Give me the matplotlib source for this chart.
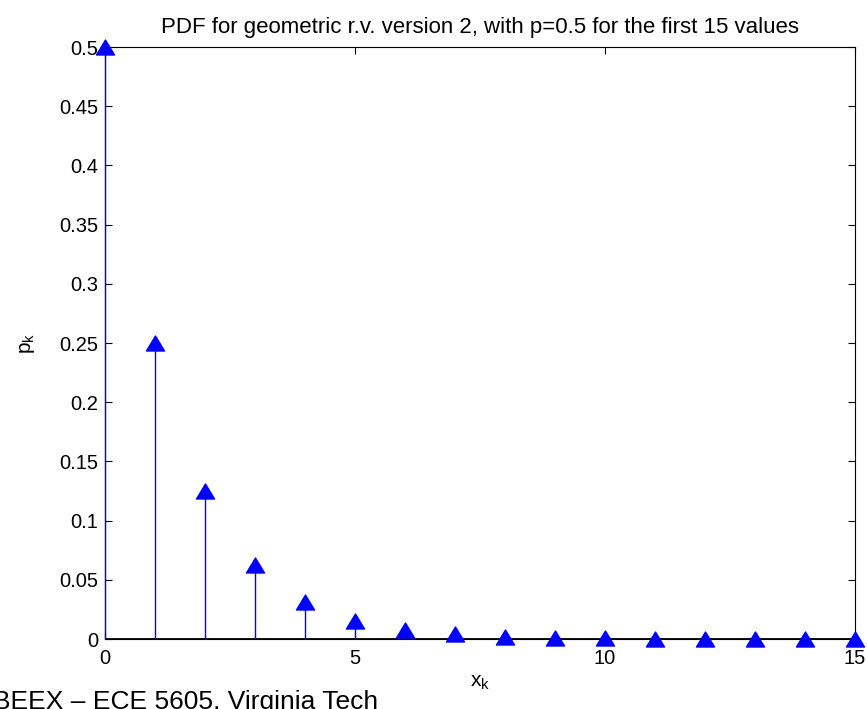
import matplotlib.pyplot as plt
from matplotlib.path import Path

plt.rcParams['font.family'] = ['Liberation Sans', 'DejaVu Sans']

xk = [0, 1, 2, 3, 4, 5, 6, 7, 8, 9, 10, 11, 12, 13, 14, 15]
pk = [0.5, 0.25, 0.125, 0.0625, 0.03125, 0.015625, 0.0078125, 0.00390625,
      0.001953125, 0.0009765625, 0.00048828125, 0.000244140625,
      0.0001220703125, 0.00006103515625, 0.000030517578125, 0.0000152587890625]
yticks = [0, 0.05, 0.1, 0.15, 0.2, 0.25, 0.3, 0.35, 0.4, 0.45, 0.5]
ylabels = ['0', '0.05', '0.1', '0.15', '0.2', '0.25', '0.3', '0.35', '0.4', '0.45', '0.5']
xticks = [0, 5, 10, 15]

# matlab-ish triangle, a bit wider than tall
tri = Path([(-1, -0.83), (1, -0.83), (0, 0.83), (-1, -0.83)],
           [Path.MOVETO, Path.LINETO, Path.LINETO, Path.CLOSEPOLY])

fig = plt.figure(figsize=(8.67, 7.09), dpi=100)
ax = fig.add_axes([0.1211, 0.0987, 0.8651, 0.835])

ax.vlines(xk, 0, pk, color='blue', linewidth=1.0, zorder=3, clip_on=False)
ax.axhline(0, color='black', linewidth=1.3, zorder=2)
ax.plot(xk, pk, linestyle='none', marker=tri, markersize=13,
        color='blue', zorder=4, clip_on=False)

ax.set_xlim(0, 15)
ax.set_ylim(0, 0.5)
ax.set_xticks(xticks)
ax.set_yticks(yticks)
ax.set_yticklabels(ylabels)
ax.tick_params(direction='in', top=True, right=True, labelsize=14.5, length=5)
ax.tick_params(axis='x', pad=7)
ax.tick_params(axis='y', pad=5)
for s in ax.spines.values():
    s.set_linewidth(0.8)

ax.set_title('PDF for geometric r.v. version 2, with p=0.5 for the first 15 values',
             fontsize=16, pad=10)
ax.set_xlabel('$\\mathregular{x_k}$', fontsize=15, labelpad=4)
ax.set_ylabel('$\\mathregular{p_k}$', fontsize=15, labelpad=16)

fig.text(-0.008, 1 - 690 / 709, 'BEEX \u2013 ECE 5605, Virginia Tech',
         fontsize=19, va='top', ha='left')

fig.savefig('out.png', dpi=100)
